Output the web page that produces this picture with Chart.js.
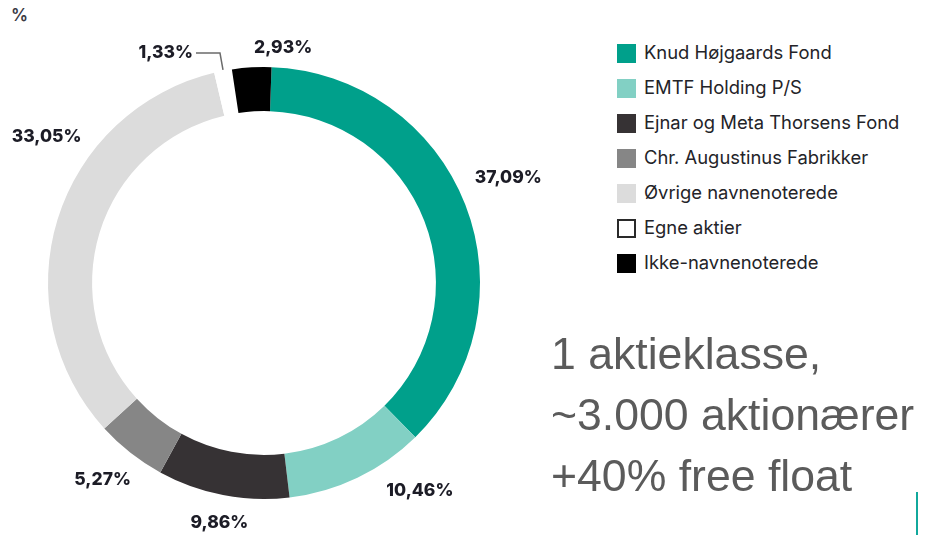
<!DOCTYPE html>
<html>
<head>
<meta charset="utf-8">
<script src="https://cdn.jsdelivr.net/npm/chart.js@4.4.0/dist/chart.umd.min.js"></script>
<style>
  html, body { margin: 0; padding: 0; background: #fff; }
  body { width: 925px; height: 535px; position: relative; overflow: hidden; font-family: Inter, "Open Sans", sans-serif; }
  #wrap { position: absolute; left: 0; top: 0; width: 560px; height: 535px; }
  #pct { position: absolute; left: 11px; top: 5px; font-size: 17px; font-weight: 600; color: #3a3a44; }
  #legend { position: absolute; left: 617px; top: 0; }
  .item { position: absolute; left: 0; height: 20px; white-space: nowrap; }
  .box { position: absolute; left: 0; top: 0; width: 19px; height: 19px; box-sizing: border-box; }
  .lbl { position: absolute; left: 27px; top: -3px; font-size: 18.4px; color: #232328; }
  #note { position: absolute; left: 551px; top: 323px; font-family: "Liberation Sans", Arial, sans-serif; font-size: 44.6px; line-height: 61px; color: #5b5b5b; }
  #bar { position: absolute; left: 916px; top: 492px; width: 2px; height: 43px; background: #11a89c; }
</style>
</head>
<body>
<div id="pct">%</div>
<div id="wrap"><canvas id="ring"></canvas></div>
<div id="legend"></div>
<div id="note">1 aktieklasse,<br>~3.000 aktionærer<br>+40% free float</div>
<div id="bar"></div>
<script>
// ejerfordeling
var owners = ['Knud Højgaards Fond', 'EMTF Holding P/S', 'Ejnar og Meta Thorsens Fond',
  'Chr. Augustinus Fabrikker', 'Øvrige navnenoterede', 'Egne aktier', 'Ikke-navnenoterede'];
var shares = [37.09, 10.46, 9.86, 5.27, 33.05, 1.33, 2.93];
var shareText = ['37,09%', '10,46%', '9,86%', '5,27%', '33,05%', '1,33%', '2,93%'];

var colors = ['#00a08b', '#82d0c4', '#363234', '#868686', '#dcdcdc', '#ffffff', '#000000'];
// label nudges in px from the default spot outside the slice
var nudge = [[1, -11], [43, -28], [5, -17], [0, -8], [32, -69], [0, 0], [34, 25]];

// legend
var legend = document.getElementById('legend');
for (var i = 0; i < owners.length; i++) {
  var it = document.createElement('div');
  it.className = 'item';
  it.style.top = (44 + i * 35) + 'px';
  var b = document.createElement('div');
  b.className = 'box';
  b.style.background = colors[i];
  if (colors[i] == '#ffffff') b.style.border = '2px solid #2a2a2a';
  var t = document.createElement('div');
  t.className = 'lbl';
  t.textContent = owners[i];
  it.appendChild(b);
  it.appendChild(t);
  legend.appendChild(it);
}

var labelPlugin = {
  id: 'sliceLabels',
  afterDatasetsDraw: function (chart) {
    var ctx = chart.ctx;
    var arcs = chart.getDatasetMeta(0).data;
    ctx.save();
    ctx.font = '800 17.5px Inter, sans-serif';
    ctx.fillStyle = '#1c1c26';
    ctx.textBaseline = 'middle';
    arcs.forEach(function (arc, i) {
      var p = arc.getProps(['x', 'y', 'startAngle', 'endAngle', 'outerRadius'], true);
      var mid = (p.startAngle + p.endAngle) / 2;
      if (owners[i] == 'Egne aktier') {
        // leader line for the tiny slice
        var ox = p.x + Math.cos(mid) * p.outerRadius;
        var oy = p.y + Math.sin(mid) * p.outerRadius;
        var ex = ox - 3, ey = p.y - p.outerRadius - 14;
        ctx.strokeStyle = '#6b6b6b';
        ctx.lineWidth = 1.5;
        ctx.beginPath();
        ctx.moveTo(ox, oy - 1);
        ctx.lineTo(ex, ey);
        ctx.lineTo(ex - 24, ey);
        ctx.stroke();
        ctx.textAlign = 'right';
        ctx.fillText(shareText[i], ex - 27, ey);
        return;
      }
      var r = p.outerRadius + 45;
      var lx = p.x + Math.cos(mid) * r + nudge[i][0];
      var ly = p.y + Math.sin(mid) * r + nudge[i][1];
      ctx.textAlign = 'center';
      ctx.fillText(shareText[i], lx, ly);
    });
    ctx.restore();
  }
};

var ctx = document.getElementById('ring').getContext('2d');
var ring = new Chart(ctx, {
  type: 'doughnut',
  data: {
    labels: owners,
    datasets: [{
      data: shares,
      backgroundColor: colors,
      borderWidth: 0,
      hoverOffset: 0
    }]
  },
  options: {
    responsive: true,
    maintainAspectRatio: false,
    animation: false,
    cutout: '79.6%',
    rotation: 2,
    layout: { padding: { left: 48, right: 80, top: 67, bottom: 36 } },
    plugins: {
      legend: { display: false },
      tooltip: { enabled: false }
    }
  },
  plugins: [labelPlugin]
});
</script>
</body>
</html>
